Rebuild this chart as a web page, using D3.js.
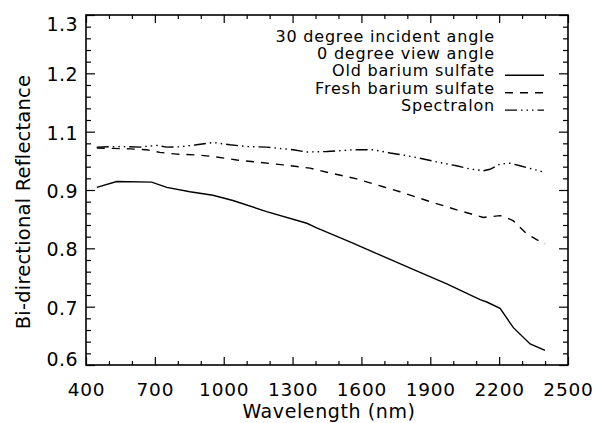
<!DOCTYPE html>
<html>
<head>
<meta charset="utf-8">
<script src="https://cdn.jsdelivr.net/npm/d3@7"></script>
<style>
  html, body { margin: 0; padding: 0; background: #fff; }
  svg { display: block; }
  text { font-family: "DejaVu Sans", sans-serif; fill: #000; }
</style>
</head>
<body>
<svg id="chart" width="595" height="423"></svg>
<script>
// ---- data ----
const xTicks = [400, 700, 1000, 1300, 1600, 1900, 2200, 2500];
const yTicks = [0.6, 0.7, 0.8, 0.9, 1.1, 1.2, 1.3];

const oldWl  = [447, 534, 686, 752, 853, 953, 1040, 1187, 1362, 1405, 1550, 1725, 1825, 1972, 2117, 2146, 2204, 2262, 2335, 2400];
const oldVal = [0.909, 0.929, 0.927, 0.909, 0.897, 0.891, 0.882, 0.863, 0.843, 0.835, 0.811, 0.781, 0.764, 0.739, 0.712, 0.708, 0.697, 0.664, 0.636, 0.625];

const freshWl  = [447, 592, 664, 722, 795, 882, 953, 1057, 1260, 1376, 1449, 1580, 1695, 1768, 1884, 2015, 2131, 2204, 2226, 2262, 2320, 2386, 2400];
const freshVal = [1.044, 1.041, 1.038, 1.029, 1.023, 1.020, 1.015, 1.003, 0.986, 0.975, 0.961, 0.938, 0.911, 0.897, 0.882, 0.866, 0.853, 0.856, 0.854, 0.847, 0.825, 0.810, 0.808];

const specWl  = [447, 548, 635, 708, 752, 810, 882, 955, 1027, 1100, 1187, 1303, 1360, 1449, 1565, 1652, 1725, 1790, 1855, 1942, 2015, 2073, 2131, 2160, 2204, 2247, 2291, 2349, 2400];
const specVal = [1.047, 1.049, 1.047, 1.053, 1.047, 1.048, 1.055, 1.063, 1.055, 1.049, 1.047, 1.038, 1.030, 1.032, 1.038, 1.038, 1.027, 1.019, 1.009, 0.994, 0.983, 0.972, 0.966, 0.971, 0.989, 0.992, 0.983, 0.971, 0.960];

const legendHeader = ["30 degree incident angle", "0 degree view angle"];
const seriesNames  = ["Old barium sulfate", "Fresh barium sulfate", "Spectralon"];
const xTitle = "Wavelength (nm)";
const yTitle = "Bi-directional Reflectance";

// ---- layout ----
const L = 86, R = 568, T = 15, B = 365;
const svg = d3.select("#chart");

const x = d3.scaleLinear().domain([400, 2500]).range([L, R]);
const yRange = yTicks.map((d, i) => B - i * (B - T) / (yTicks.length - 1));
const y = d3.scaleLinear().domain(yTicks).range(yRange);

// minor ticks
const xMinor = d3.range(400, 2501, 100).filter(v => !xTicks.includes(v));
const yMinor = [];
for (let i = 0; i < yTicks.length - 1; i++) {
  for (let k = 1; k < 5; k++) yMinor.push(yTicks[i] + k * (yTicks[i + 1] - yTicks[i]) / 5);
}

function styleAxis(g) {
  g.select(".domain").remove();
  g.selectAll(".tick line").attr("stroke", "#000").attr("stroke-width", 1.2);
}

// bottom
svg.append("g").attr("transform", `translate(0,${B})`)
  .call(d3.axisBottom(x).tickValues(xMinor).tickSize(-4).tickFormat(""))
  .call(styleAxis);
const gxb = svg.append("g").attr("transform", `translate(0,${B})`)
  .call(d3.axisBottom(x).tickValues(xTicks).tickSize(-8).tickPadding(0).tickFormat(d3.format("d")))
  .call(styleAxis);
gxb.selectAll(".tick text").attr("y", 31).attr("dy", 0)
  .style("font-size", "18.5px").style("font-family", "DejaVu Sans").style("letter-spacing", "0.8px");

// top
svg.append("g").attr("transform", `translate(0,${T})`)
  .call(d3.axisTop(x).tickValues(xMinor).tickSize(-4).tickFormat(""))
  .call(styleAxis);
svg.append("g").attr("transform", `translate(0,${T})`)
  .call(d3.axisTop(x).tickValues(xTicks).tickSize(-8).tickFormat(""))
  .call(styleAxis);

// left
svg.append("g").attr("transform", `translate(${L},0)`)
  .call(d3.axisLeft(y).tickValues(yMinor).tickSize(-5).tickFormat(""))
  .call(styleAxis);
const gyl = svg.append("g").attr("transform", `translate(${L},0)`)
  .call(d3.axisLeft(y).tickValues(yTicks).tickSize(-9).tickPadding(8).tickFormat(d3.format(".1f")))
  .call(styleAxis);
gyl.selectAll(".tick text")
  .attr("dy", (d, i) => i === 0 ? 0.5 : (i === yTicks.length - 1 ? 15.5 : 7.5))
  .style("font-size", "19px").style("font-family", "DejaVu Sans").style("letter-spacing", "0.4px");

// right
svg.append("g").attr("transform", `translate(${R},0)`)
  .call(d3.axisRight(y).tickValues(yMinor).tickSize(-5).tickFormat(""))
  .call(styleAxis);
svg.append("g").attr("transform", `translate(${R},0)`)
  .call(d3.axisRight(y).tickValues(yTicks).tickSize(-9).tickFormat(""))
  .call(styleAxis);

// frame
svg.append("rect").attr("x", L).attr("y", T).attr("width", R - L).attr("height", B - T)
  .attr("fill", "none").attr("stroke", "#000").attr("stroke-width", 1.6);

// series
const styles = [null, "8,7", "12,4,1.5,4,1.5,4,1.5,4"];
const series = [
  oldWl.map((w, i) => [w, oldVal[i]]),
  freshWl.map((w, i) => [w, freshVal[i]]),
  specWl.map((w, i) => [w, specVal[i]])
];
const line = d3.line().x(d => x(d[0])).y(d => y(d[1]));
series.forEach((s, i) => {
  svg.append("path").datum(s).attr("d", line)
    .attr("fill", "none").attr("stroke", "#000").attr("stroke-width", 1.4)
    .attr("stroke-dasharray", styles[i]);
});

// legend
const legX = 495, legY0 = 41.5, legDy = 17.4;
const lg = svg.append("g");
legendHeader.concat(seriesNames).forEach((t, i) => {
  lg.append("text").attr("x", legX).attr("y", legY0 + i * legDy)
    .attr("text-anchor", "end").style("font-size", "16px").style("letter-spacing", "0.8px").text(t);
});
seriesNames.forEach((t, i) => {
  const yy = legY0 + (i + 2) * legDy - 1;
  lg.append("line").attr("x1", 505).attr("x2", 544).attr("y1", yy).attr("y2", yy)
    .attr("stroke", "#000").attr("stroke-width", 1.4)
    .attr("stroke-dasharray", styles[i]);
});

// axis titles
svg.append("text").attr("x", (L + R) / 2 + 2).attr("y", 418).attr("text-anchor", "middle")
  .style("font-size", "19px").style("letter-spacing", "0.6px").text(xTitle);
svg.append("text").attr("transform", `translate(30,${(T + B) / 2 + 12}) rotate(-90)`)
  .attr("text-anchor", "middle").style("font-size", "19.5px").style("letter-spacing", "0.2px").text(yTitle);
</script>
</body>
</html>
